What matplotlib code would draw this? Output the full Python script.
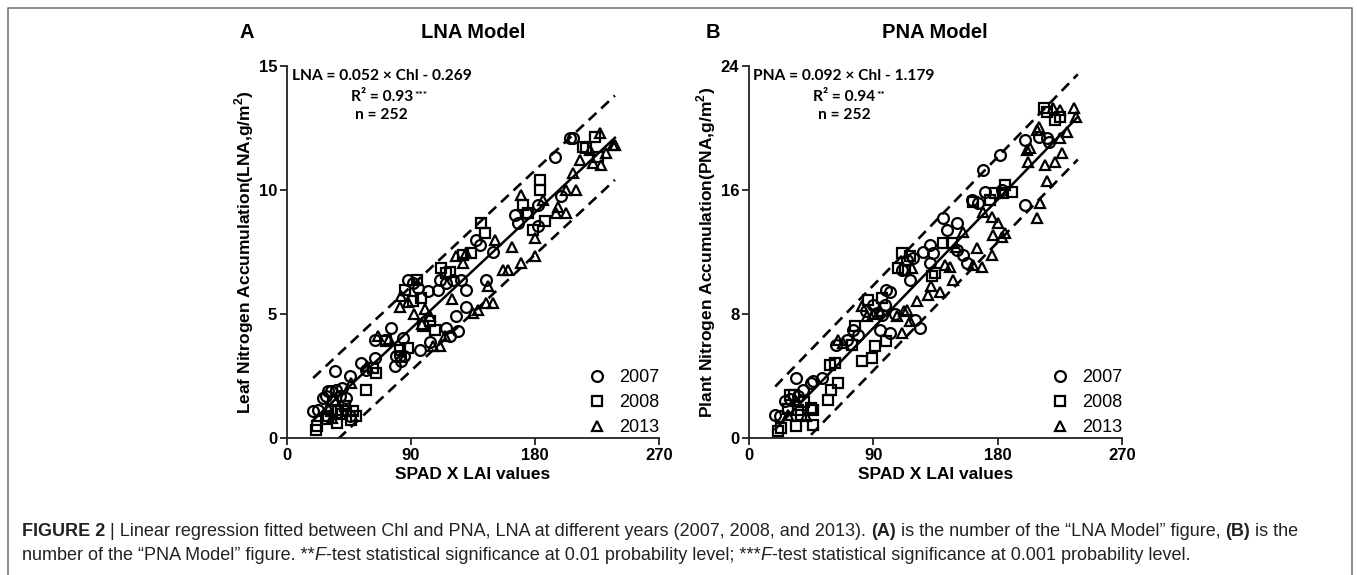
import matplotlib
matplotlib.use("Agg")
import matplotlib.pyplot as plt
from matplotlib.lines import Line2D
import numpy as np

W, H = 1357, 575

# ---- panel A (LNA) data ----
lna_x_2007 = [18.9, 22.5, 26.1, 34.6, 32.2, 35.8, 38.2, 45.5, 43.1, 54.0, 57.6, 63.6, 63.6, 70.9, 75.7,
              78.1, 79.4, 81.8, 84.5, 87.8, 91.4, 95.1, 96.3, 102.3, 103.5, 109.6, 110.8, 115.6, 115.6,
              118.0, 120.5, 122.9, 124.1, 126.5, 130.2, 137.4, 139.9, 144.7, 149.5, 165.3, 167.7,
              173.8, 182.2, 194.3, 205.2, 207.6, 199.1, 182.2, 130.2, 45.5, 28.0, 30.0, 40.0, 85.0, 83.0]
lna_y_2007 = [1.07, 1.11, 1.61, 2.69, 1.88, 1.95, 1.68, 2.48, 1.61, 3.02, 2.75, 3.22, 3.96, 3.96, 4.43,
              2.89, 3.29, 3.29, 4.03, 6.38, 6.24, 6.04, 3.56, 5.91, 3.89, 5.98, 6.38, 6.24, 4.43,
              4.10, 6.38, 4.90, 4.30, 6.38, 5.98, 7.99, 7.79, 6.38, 7.52, 9.00, 8.66,
              9.06, 9.40, 11.35, 12.09, 12.09, 9.74, 8.53, 5.30, 0.87, 1.70, 1.90, 2.00, 3.30, 3.10]

lna_x_2008 = [21.3, 21.8, 32.2, 33.4, 37.0, 43.1, 46.7, 47.9, 57.6, 64.8, 62.4, 81.8, 87.8, 85.4, 94.5,
              91.4, 97.6, 98.7, 107.2, 112.0, 115.6, 118.0, 127.7, 133.8, 141.1, 143.5, 171.3, 174.9,
              183.4, 183.4, 187.0, 178.6, 214.9, 217.3, 223.3, 225.7, 28.0, 40.0, 72.0, 104.0,
              30.0, 36.0, 42.0, 50.0]
lna_y_2008 = [0.34, 0.47, 1.07, 1.48, 1.14, 1.07, 0.74, 1.07, 1.95, 2.62, 2.82, 3.56, 3.63, 5.98, 6.38,
              5.51, 5.64, 4.50, 4.36, 6.85, 6.65, 6.71, 7.39, 7.45, 8.66, 8.26, 9.40, 9.06,
              10.41, 10.00, 8.73, 8.39, 11.75, 11.68, 12.15, 11.35, 0.75, 0.95, 3.90, 4.70,
              0.90, 0.60, 1.30, 0.90]

lna_x_2013 = [46.7, 66.0, 81.8, 82.9, 103.5, 105.9, 110.8, 114.4, 122.9, 127.7, 130.2, 135.0, 138.6,
              144.7, 149.5, 145.9, 150.7, 156.8, 160.4, 163.0, 170.1, 170.1, 179.7, 179.7, 185.8,
              196.7, 195.5, 202.8, 202.8, 210.0, 207.6, 212.4, 219.7, 222.1, 226.9, 228.1, 231.8,
              236.6, 237.8, 30.0, 58.0, 74.0, 92.0, 98.0, 33.0, 88.0, 100.0, 120.0]
lna_y_2013 = [2.22, 4.10, 5.30, 5.71, 4.90, 3.69, 3.69, 4.10, 7.32, 7.05, 7.45, 5.04, 5.17,
              5.44, 5.44, 6.11, 7.99, 6.78, 6.78, 7.72, 7.05, 9.80, 7.32, 8.06, 9.60,
              9.33, 9.06, 10.00, 9.06, 10.00, 10.68, 11.21, 11.62, 11.08, 12.29, 11.00, 11.48,
              11.82, 11.82, 1.20, 2.90, 4.00, 5.00, 4.60, 0.80, 5.50, 5.20, 5.60]

# ---- panel B (PNA) data ----
pna_x_2007 = [18.6, 22.2, 25.9, 34.3, 35.5, 39.2, 45.2, 46.4, 52.5, 63.3, 70.6, 75.4, 79.0, 89.9, 92.3,
              96.0, 98.4, 99.5, 102.0, 94.8, 102.0, 110.5, 114.1, 118.9, 116.5, 123.8, 126.2, 131.0,
              131.0, 133.4, 140.7, 143.1, 150.4, 150.4, 155.2, 157.7, 161.3, 166.1, 169.7, 170.9,
              181.8, 183.0, 199.9, 199.9, 215.6, 216.8, 209.6, 30.0, 85.0, 106.0, 120.0]
pna_y_2007 = [1.50, 1.40, 2.36, 3.87, 2.69, 3.12, 3.55, 3.65, 3.87, 6.02, 6.34, 6.98, 6.66, 8.59, 8.06,
              7.95, 8.59, 9.56, 9.45, 6.98, 6.77, 10.85, 11.50, 11.60, 10.21, 7.09, 12.03, 12.46,
              11.28, 11.93, 14.18, 13.43, 13.86, 12.14, 11.82, 11.28, 15.36, 15.15, 17.30, 15.90,
              18.26, 16.00, 15.04, 19.23, 19.34, 19.12, 19.45, 2.50, 8.20, 8.00, 7.60]

pna_x_2008 = [21.0, 23.4, 29.5, 32.9, 34.3, 35.5, 45.2, 46.4, 46.4, 57.3, 59.7, 64.5, 58.5, 62.1, 74.2,
              76.7, 81.5, 88.7, 91.1, 86.3, 96.0, 99.5, 110.5, 112.9, 116.5, 132.2, 134.6, 140.7,
              146.7, 162.4, 174.5, 184.2, 185.4, 190.2, 178.1, 213.2, 215.6, 221.7, 225.3,
              28.0, 38.0, 40.0, 108.0]
pna_y_2008 = [0.43, 0.64, 2.79, 2.79, 0.75, 1.83, 1.93, 0.86, 1.83, 2.47, 3.12, 3.55, 4.73, 4.83, 6.02,
              7.20, 4.94, 5.16, 5.91, 8.92, 9.02, 6.23, 11.93, 10.85, 11.71, 10.42, 10.64, 12.57,
              12.57, 15.25, 15.36, 15.79, 16.33, 15.90, 15.79, 21.27, 21.06, 20.52, 20.73,
              1.90, 1.50, 2.30, 11.00]

pna_x_2013 = [28.3, 41.6, 64.5, 68.1, 81.5, 85.1, 106.8, 110.5, 114.1, 116.5, 117.7, 121.3, 129.5,
              131.9, 137.9, 141.9, 145.5, 148.0, 155.2, 162.4, 164.9, 168.5, 169.7, 175.7, 175.7,
              176.9, 180.5, 182.9, 185.4, 201.1, 202.3, 203.5, 208.4, 208.4, 209.6, 210.8, 214.4,
              215.6, 221.7, 226.6, 225.3, 230.2, 235.6, 236.8, 220.4, 225.3,
              34.0, 90.0, 95.0, 112.0, 150.0]
pna_y_2013 = [1.50, 1.40, 6.34, 6.12, 8.49, 7.84, 7.84, 6.77, 8.27, 7.52, 10.96, 8.81, 9.24,
              9.78, 9.45, 11.17, 11.06, 10.21, 13.32, 11.17, 12.25, 11.06, 14.61, 11.82, 14.29,
              13.11, 13.86, 13.00, 13.21, 18.59, 17.83, 18.69, 19.88, 14.18, 20.09, 15.15, 17.62,
              16.55, 17.83, 18.37, 19.34, 19.77, 21.27, 20.73, 21.27, 21.16,
              2.40, 8.00, 8.20, 8.20, 12.30]

years = ["2007", "2008", "2013"]
markers = ["o", "s", "^"]

# fitted models and prediction band half-widths
lna_fit = (0.052, -0.269, 1.7)
pna_fit = (0.092, -1.179, 2.75)
fit_range = (19, 238)

fig = plt.figure(figsize=(W / 100, H / 100), dpi=100)
tick_font = dict(family="Liberation Sans", weight="bold", size=12)
eq_font = dict(family="Lato", weight="bold", size=11.2)


def panel(rect, xs, ys, fit, ymax, yticks, ylabel, eq, r2, stars):
    ax = fig.add_axes(rect)
    for x, y, m, lab in zip(xs, ys, markers, years):
        ax.plot(x, y, m, ms=7.8, mfc="none", mec="black", mew=1.6, label=lab, clip_on=False, zorder=3)
    slope, icpt, band = fit
    xx = np.array(fit_range, dtype=float)
    ax.plot(xx, slope * xx + icpt, color="black", lw=1.8, zorder=2)
    ax.plot(xx, slope * xx + icpt + band, color="black", lw=1.9, ls=(0, (4, 2.5)), zorder=2)
    ax.plot(xx, slope * xx + icpt - band, color="black", lw=1.9, ls=(0, (4, 2.5)), zorder=2)
    ax.set_xlim(0, 270)
    ax.set_ylim(0, ymax)
    ax.set_xticks([0, 90, 180, 270])
    ax.set_yticks(yticks)
    for s in ["top", "right"]:
        ax.spines[s].set_visible(False)
    for s in ["left", "bottom"]:
        ax.spines[s].set_linewidth(1.3)
        ax.spines[s].set_color("#222222")
    ax.tick_params(direction="out", length=5, width=1.3, color="#222222", pad=2)
    for lab in ax.get_xticklabels() + ax.get_yticklabels():
        lab.set_fontproperties(tick_font)
    ax.set_xlabel("SPAD X LAI values", fontdict=dict(family="Liberation Sans", weight="bold", size=12.5),
                  labelpad=3)
    ax.set_ylabel(ylabel, fontdict=dict(family="Liberation Sans", weight="bold", size=12.5), labelpad=2)
    ax.text(0.255, 0.973, eq, transform=ax.transAxes, ha="center", va="center", **eq_font)
    t = ax.text(0.255, 0.917, r2, transform=ax.transAxes, ha="center", va="center", **eq_font)
    ax.annotate(stars, xy=(1, 1), xycoords=t, xytext=(1, -1), textcoords="offset points",
                ha="left", va="top", family="Lato", weight="bold", size=7.5)
    ax.text(0.255, 0.868, "n = 252", transform=ax.transAxes, ha="center", va="center", **eq_font)
    ax.legend(loc="lower right", bbox_to_anchor=(1.02, -0.015), frameon=False,
              prop=dict(family="Liberation Sans", size=13), handletextpad=0.6,
              labelspacing=0.45, handlelength=1.2, borderaxespad=0)
    return ax


ax1 = panel([287 / W, 1 - 438 / H, 372 / W, 372 / H],
            [lna_x_2007, lna_x_2008, lna_x_2013], [lna_y_2007, lna_y_2008, lna_y_2013],
            lna_fit, 15, [0, 5, 10, 15], "Leaf Nitrogen Accumulation(LNA,g/m$^{\\mathregular{2}}$)",
            "LNA = 0.052 × Chl - 0.269", "R² = 0.93", "***")
ax2 = panel([749 / W, 1 - 438 / H, 373 / W, 372 / H],
            [pna_x_2007, pna_x_2008, pna_x_2013], [pna_y_2007, pna_y_2008, pna_y_2013],
            pna_fit, 24, [0, 8, 16, 24], "Plant Nitrogen Accumulation(PNA,g/m$^{\\mathregular{2}}$)",
            "PNA = 0.092 × Chl - 1.179", "R² = 0.94", "**")

title_font = dict(family="Liberation Sans", weight="bold", size=14.5)
fig.text(247 / W, 1 - 33 / H, "A", ha="center", va="center", **title_font)
fig.text(473 / W, 1 - 33 / H, "LNA Model", ha="center", va="center", **title_font)
fig.text(713 / W, 1 - 33 / H, "B", ha="center", va="center", **title_font)
fig.text(935 / W, 1 - 33 / H, "PNA Model", ha="center", va="center", **title_font)

# frame round the figure
fig.add_artist(Line2D([8 / W, 8 / W, 1352 / W, 1352 / W], [0, 1 - 8 / H, 1 - 8 / H, 0],
                      transform=fig.transFigure, color="#777777", lw=1.2))

# caption with mixed bold / italic runs
renderer = fig.canvas.get_renderer()
cap_size = 13


def run_width(s, kw):
    t1 = fig.text(0, 0, s + "|", size=cap_size, family="Liberation Sans", **kw)
    t2 = fig.text(0, 0, "|", size=cap_size, family="Liberation Sans", **kw)
    w = t1.get_window_extent(renderer).width - t2.get_window_extent(renderer).width
    t1.remove()
    t2.remove()
    return w


def put_runs(x, y, runs):
    for s, kw in runs:
        fig.text(x / W, 1 - y / H, s, size=cap_size, family="Liberation Sans", color="#222222",
                 va="center", ha="left", **kw)
        x += run_width(s, kw)


B = dict(weight="bold")
N = dict()
I = dict(style="italic")
put_runs(22, 531, [("FIGURE 2", B),
                   (" | Linear regression fitted between Chl and PNA, LNA at different years (2007, 2008, and 2013). ", N),
                   ("(A)", B), (" is the number of the \u201cLNA Model\u201d figure, ", N),
                   ("(B)", B), (" is the", N)])
put_runs(22, 555, [("number of the \u201cPNA Model\u201d figure. **", N), ("F", I),
                   ("-test statistical significance at 0.01 probability level; ***", N), ("F", I),
                   ("-test statistical significance at 0.001 probability level.", N)])

fig.savefig("out.png", dpi=100)
